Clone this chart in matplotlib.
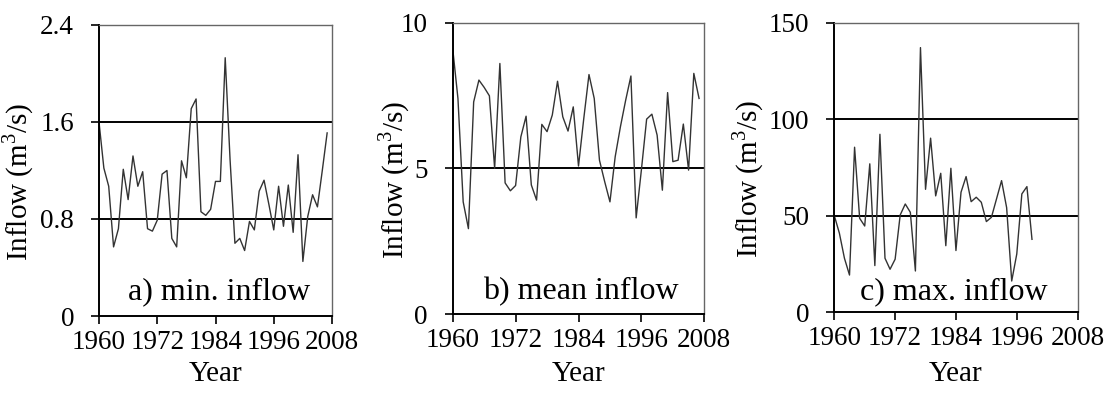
import matplotlib
matplotlib.use("Agg")
import matplotlib.pyplot as plt
import numpy as np

plt.rcParams['font.family'] = ['Liberation Serif', 'DejaVu Serif']
plt.rcParams['mathtext.fontset'] = 'custom'
plt.rcParams['mathtext.rm'] = 'Liberation Serif'

years_a = list(range(1960, 2008))
min_inflow = [1.60, 1.22, 1.07, 0.57, 0.72, 1.21, 0.96, 1.32, 1.07, 1.19,
              0.72, 0.70, 0.79, 1.17, 1.20, 0.64, 0.57, 1.28, 1.14, 1.71,
              1.79, 0.86, 0.83, 0.88, 1.11, 1.11, 2.13, 1.29, 0.60, 0.64,
              0.54, 0.78, 0.71, 1.03, 1.12, 0.92, 0.71, 1.07, 0.74, 1.08,
              0.69, 1.33, 0.45, 0.82, 1.00, 0.90, 1.20, 1.51]

years_b = list(range(1960, 2008))
mean_inflow = [9.11, 7.40, 3.85, 2.93, 7.28, 8.03, 7.78, 7.49, 5.00, 8.60,
               4.50, 4.23, 4.41, 6.08, 6.79, 4.43, 3.91, 6.51, 6.26, 6.83,
               7.99, 6.77, 6.28, 7.11, 5.08, 6.70, 8.22, 7.40, 5.28, 4.54,
               3.85, 5.40, 6.43, 7.34, 8.17, 3.30, 4.95, 6.69, 6.86, 6.14,
               4.25, 7.60, 5.23, 5.28, 6.52, 4.94, 8.26, 7.40]

years_c = list(range(1960, 2000))
max_inflow = [50.1, 41.0, 28.0, 19.3, 85.5, 48.7, 44.7, 76.9, 24.2, 92.2,
              28.0, 22.3, 27.5, 50.4, 56.1, 51.8, 21.4, 137.1, 63.7, 90.2,
              60.3, 72.0, 34.5, 74.6, 32.0, 62.2, 70.3, 57.3, 59.6, 57.0,
              47.0, 49.2, 58.7, 68.2, 54.2, 16.2, 30.2, 61.3, 65.1, 37.8]

x_ticks = [1960, 1972, 1984, 1996, 2008]
panels = [
    dict(x=years_a, y=min_inflow, yticks=[0, 0.8, 1.6, 2.4], yticklabels=['0', '0.8', '1.6', '2.4'],
         label='a) min. inflow', rect=[99, 25, 332, 316], text_x=219, ylab_x=36),
    dict(x=years_b, y=mean_inflow, yticks=[0, 5, 10], yticklabels=['0', '5', '10'],
         label='b) mean inflow', rect=[452.7, 22.7, 704.3, 314], text_x=581, ylab_x=412),
    dict(x=years_c, y=max_inflow, yticks=[0, 50, 100, 150], yticklabels=['0', '50', '100', '150'],
         label='c) max. inflow', rect=[834.3, 22.7, 1077.6, 312.3], text_x=954, ylab_x=766),
]

W, H = 1107, 394
fig = plt.figure(figsize=(W / 100, H / 100), dpi=100)

for p in panels:
    l, t, r, b = p['rect']
    ax = fig.add_axes([l / W, 1 - b / H, (r - l) / W, (b - t) / H])
    ax.plot(p['x'], p['y'], color='#333333', lw=1.0)
    ax.set_xlim(1960, 2008)
    ax.set_ylim(p['yticks'][0], p['yticks'][-1])
    ax.set_xticks(x_ticks)
    ax.set_xticklabels([str(v) for v in x_ticks])
    ax.set_yticks(p['yticks'])
    ax.set_yticklabels(p['yticklabels'])
    for yv in p['yticks'][1:]:
        ax.axhline(yv, color='black', lw=1.4, zorder=1)
    ax.tick_params(direction='out', length=6, width=1.2, labelsize=19.5, pad=4, colors='black')
    ax.tick_params(axis='y', pad=12)
    for s in ['left', 'bottom']:
        ax.spines[s].set_linewidth(1.4)
        ax.spines[s].set_color('black')
    for s in ['top', 'right']:
        ax.spines[s].set_linewidth(1.0)
        ax.spines[s].set_color('#666666')
    ax.set_xlabel('Year', fontsize=21)
    ax.set_ylabel('Inflow (m$^3$/s)', fontsize=21)
    ax.yaxis.set_label_coords((p['ylab_x'] - l) / (r - l), 0.46)
    ax.xaxis.set_label_coords(0.5, (b - 361) / (b - t))
    ax.text((p['text_x'] - l) / (r - l), (b - 292) / (b - t), p['label'],
            transform=ax.transAxes, fontsize=23, ha='center', va='center')

fig.savefig('out.png', dpi=100)
